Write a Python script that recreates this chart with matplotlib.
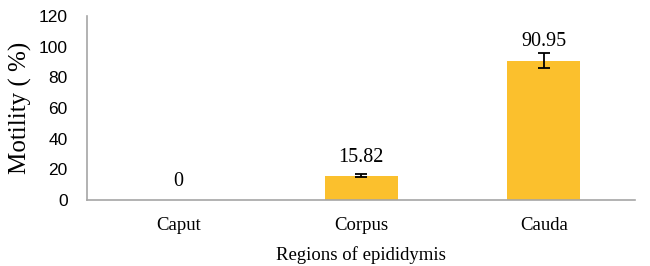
import matplotlib
matplotlib.use('Agg')
from matplotlib import pyplot as plt
import numpy as np

regions = ['Caput', 'Corpus', 'Cauda']
motility = [0, 15.82, 90.95]
errors = [0, 1.0, 4.7]
value_labels = ['0', '15.82', '90.95']

serif = ['Liberation Serif', 'DejaVu Serif']
sans = ['Liberation Sans', 'DejaVu Sans']

fig = plt.figure(figsize=(6.5, 2.66), dpi=100)
ax = fig.add_axes([0.134, 0.248, 0.843, 0.692])

x = np.arange(len(regions))
ax.bar(x, motility, width=0.4, color='#FBC02D', zorder=2)
ax.errorbar(x[1:], motility[1:], yerr=errors[1:], fmt='none', ecolor='black',
            elinewidth=1.3, capsize=4, capthick=1.3, zorder=3)

for xi, val, err, lab in zip(x, motility, errors, value_labels):
    ax.annotate(lab, (xi, val), xytext=(0, 6.5), textcoords='offset points',
                ha='center', va='bottom', fontsize=14.5, family=serif)

ax.set_xlim(-0.5, 2.5)
ax.set_ylim(0, 120)
ax.set_yticks(range(0, 121, 20))
ax.set_xticks(x)
ax.set_xticklabels(regions, fontsize=13.5, family=serif)
for t in ax.get_yticklabels():
    t.set_family(sans)
    t.set_fontsize(12.5)
ax.tick_params(axis='both', length=0)
ax.tick_params(axis='y', pad=14)
ax.tick_params(axis='x', pad=12)

for s in ['top', 'right']:
    ax.spines[s].set_visible(False)
for s in ['left', 'bottom']:
    ax.spines[s].set_color('#A6A6A6')
    ax.spines[s].set_linewidth(1.2)

ax.set_xlabel('Regions of epididymis', fontsize=13.5, family=serif, labelpad=9)
ax.set_ylabel('Motility ( %)', fontsize=18, family=serif, labelpad=5)

fig.savefig('out.png', dpi=100)
